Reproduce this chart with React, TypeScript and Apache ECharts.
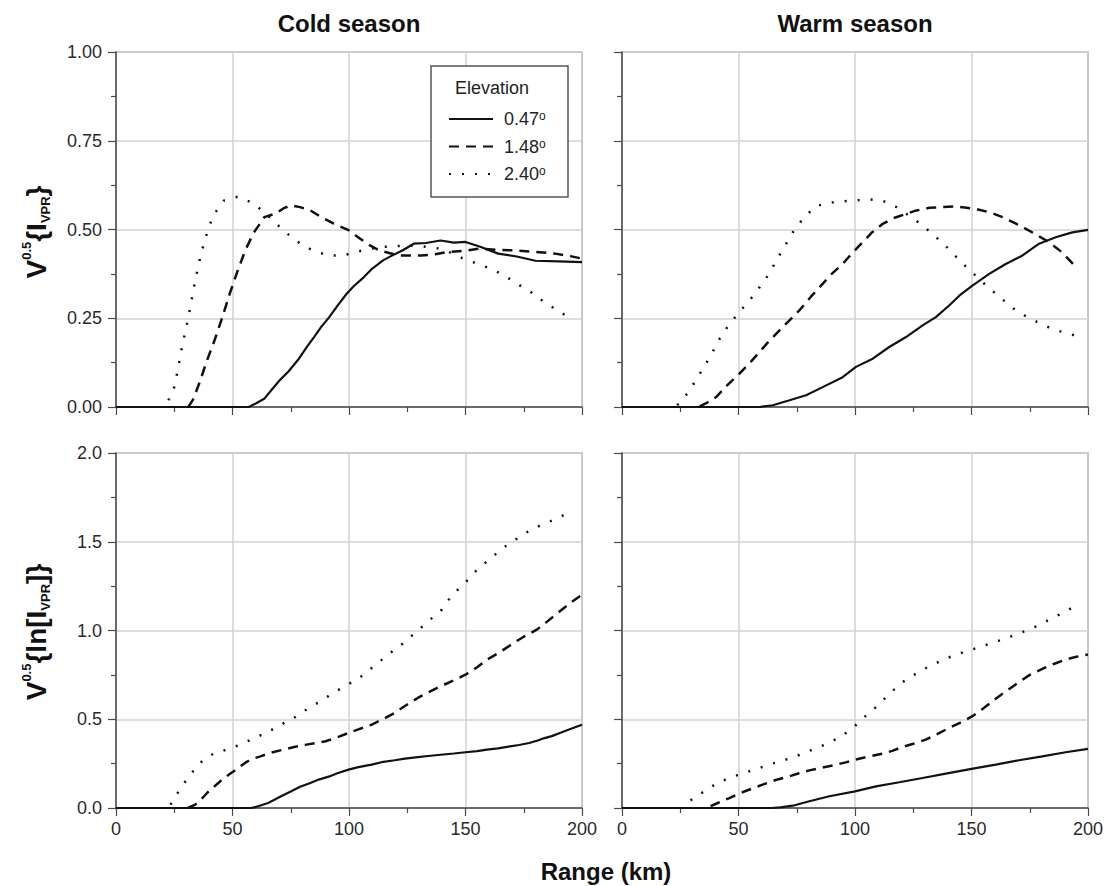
import React, { useEffect, useRef } from 'react';
import * as echarts from 'echarts';

const FONT = '"Liberation Sans", Arial, Helvetica, sans-serif';

// Elevation angles (degrees) of the three radar scans
const elevations = ['0.47', '1.48', '2.40'];

// Range axis (km)
const rangeMin = 0;
const rangeMax = 200;
const rangeStep = 50;

// Upper row: V^0.5{I_VPR}
const ivprMax = 1;
const ivprStep = 0.25;
// Lower row: V^0.5{ln[I_VPR]}
const lnIvprMax = 2;
const lnIvprStep = 0.5;

// ---- Cold season, V^0.5{I_VPR} ----
const coldIvpr047 = [
  [0, 0], [57, 0], [60, 0.01], [63.6, 0.023], [67, 0.05], [70.2, 0.075], [74, 0.1], [78.5, 0.136],
  [82, 0.17], [85, 0.197], [88, 0.225], [91.6, 0.254], [95, 0.285], [99, 0.319], [102, 0.34],
  [106.4, 0.366], [110, 0.39], [114.6, 0.413], [118, 0.425], [122.9, 0.441], [127.8, 0.46],
  [133, 0.462], [139.3, 0.469], [145, 0.463], [150, 0.465], [156, 0.452], [164, 0.432],
  [172, 0.424], [180, 0.412], [190, 0.41], [200, 0.408],
];
const coldIvpr148 = [
  [31, 0], [33, 0.02], [35.7, 0.066], [39, 0.13], [42.3, 0.188], [45.5, 0.25], [48.8, 0.319],
  [52, 0.38], [55.4, 0.44], [59, 0.49], [63.7, 0.535], [68.6, 0.545], [72, 0.56], [75.2, 0.568],
  [79, 0.563], [83.4, 0.554], [88, 0.535], [93.3, 0.517], [99.8, 0.498], [104.8, 0.474],
  [109, 0.455], [113, 0.441], [121.2, 0.427], [131, 0.427], [137, 0.43], [142.6, 0.437],
  [150, 0.44], [155.8, 0.446], [163, 0.443], [172, 0.441], [180, 0.437], [188.6, 0.432],
  [195, 0.425], [200, 0.418],
];
const coldIvpr240 = [
  [22.5, 0.019], [25, 0.056], [26.7, 0.11], [28.3, 0.169], [30.8, 0.244], [32.4, 0.3], [34, 0.357],
  [36.5, 0.432], [39.8, 0.507], [42.3, 0.545], [46.4, 0.582], [52.1, 0.592], [57.9, 0.577],
  [63.7, 0.549], [69, 0.515], [74.3, 0.484], [80.1, 0.455], [85.9, 0.437], [91.6, 0.427],
  [97.4, 0.427], [103.1, 0.437], [109.7, 0.446], [114.6, 0.451], [120.4, 0.453], [126, 0.455],
  [132, 0.452], [138, 0.447], [143.5, 0.435], [149, 0.418], [155, 0.404], [160.7, 0.39],
  [166.5, 0.371], [172.2, 0.347], [178, 0.324], [183.7, 0.296], [189.5, 0.272], [195.2, 0.249],
];

// ---- Warm season, V^0.5{I_VPR} ----
const warmIvpr047 = [
  [0, 0], [59, 0], [64.7, 0.005], [71.9, 0.019], [79, 0.033], [86.1, 0.056], [94.7, 0.084],
  [100.4, 0.113], [107.6, 0.136], [114.7, 0.169], [121.9, 0.197], [129, 0.23], [134.7, 0.253],
  [140.4, 0.286], [145, 0.315], [150.4, 0.342], [157.6, 0.375], [164.7, 0.403], [171.9, 0.427],
  [179, 0.46], [186.1, 0.478], [193.3, 0.492], [200, 0.499],
];
const warmIvpr148 = [
  [33.3, 0.002], [36, 0.01], [40.4, 0.028], [45, 0.06], [50.4, 0.094], [55, 0.125], [59, 0.155],
  [63, 0.185], [67.6, 0.216], [72, 0.245], [76.1, 0.272], [81, 0.31], [86.1, 0.347], [90, 0.375],
  [94.7, 0.403], [99, 0.435], [103.3, 0.464], [107, 0.49], [111.9, 0.516], [117, 0.533],
  [121.9, 0.544], [126, 0.553], [131.9, 0.561], [137, 0.563], [143.3, 0.565], [147, 0.562],
  [151.9, 0.558], [158, 0.548], [163.3, 0.535], [168, 0.52], [173.3, 0.502], [178, 0.485],
  [183.3, 0.464], [189, 0.435], [194.7, 0.395],
];
const warmIvpr240 = [
  [23.7, 0.005], [28.6, 0.042], [32.1, 0.08], [35.6, 0.117], [38.9, 0.155], [41.9, 0.192],
  [45.7, 0.23], [50.3, 0.267], [55.3, 0.305], [59.6, 0.342], [63.6, 0.38], [66.6, 0.417],
  [70, 0.455], [73.4, 0.493], [77.6, 0.53], [82.9, 0.565], [88.6, 0.575], [94.3, 0.579],
  [100, 0.582], [105.9, 0.585], [111.6, 0.582], [117.3, 0.565], [123, 0.54], [128.7, 0.513],
  [134.4, 0.481], [140.1, 0.446], [145.6, 0.408], [151.3, 0.373], [156.7, 0.34], [162.4, 0.308],
  [168.1, 0.277], [173.9, 0.253], [179.6, 0.235], [185.3, 0.218], [191, 0.208], [196.7, 0.197],
];

// ---- Cold season, V^0.5{ln[I_VPR]} ----
const coldLnIvpr047 = [
  [0, 0], [58, 0], [61, 0.01], [65.3, 0.028], [70, 0.06], [75.2, 0.094], [79, 0.12], [83.4, 0.141],
  [87, 0.16], [91.6, 0.178], [95, 0.196], [99.8, 0.216], [104, 0.23], [109.7, 0.244],
  [114, 0.258], [119.6, 0.269], [124, 0.278], [129.5, 0.287], [134, 0.293], [139.3, 0.3],
  [145, 0.307], [150, 0.314], [155, 0.32], [159.2, 0.329], [164, 0.336], [169.1, 0.347],
  [173, 0.355], [177.3, 0.366], [181, 0.38], [183.9, 0.394], [187, 0.405], [190.5, 0.423],
  [195, 0.445], [200, 0.469],
];
const coldLnIvpr148 = [
  [30.8, 0], [34, 0.019], [37, 0.055], [39.8, 0.094], [43.9, 0.141], [47, 0.175], [50.5, 0.207],
  [55.4, 0.254], [58, 0.275], [62, 0.291], [66, 0.31], [71.9, 0.329], [76, 0.342], [81.7, 0.357],
  [86, 0.366], [90, 0.376], [95, 0.398], [99.8, 0.423], [104, 0.443], [109.7, 0.469],
  [114, 0.497], [119.6, 0.535], [124, 0.575], [129.5, 0.62], [134, 0.652], [139.3, 0.685],
  [145, 0.72], [150, 0.751], [155, 0.793], [159.2, 0.836], [165, 0.88], [170.7, 0.93],
  [175, 0.965], [180.6, 1.005], [185, 1.05], [190.5, 1.108], [195, 1.155], [200, 1.202],
];
const coldLnIvpr240 = [
  [23.4, 0.019], [27.3, 0.103], [31.3, 0.178], [36, 0.254], [41.8, 0.306], [47.5, 0.329],
  [53.3, 0.357], [59, 0.391], [64.8, 0.426], [70.7, 0.469], [76.3, 0.507], [82.1, 0.558],
  [87.8, 0.601], [93.6, 0.652], [99.5, 0.695], [105.3, 0.742], [111, 0.802], [116.8, 0.864],
  [122.5, 0.92], [128.3, 0.986], [134, 1.052], [139.8, 1.117], [144, 1.196], [150, 1.271],
  [154.6, 1.337], [160.4, 1.403], [166.1, 1.465], [171.9, 1.516], [177.6, 1.564],
  [183.4, 1.6], [189, 1.629], [194.9, 1.668],
];

// ---- Warm season, V^0.5{ln[I_VPR]} ----
const warmLnIvpr047 = [
  [0, 0], [64, 0], [68, 0.004], [73.3, 0.013], [80.4, 0.038], [89, 0.066], [100, 0.094],
  [109, 0.122], [119, 0.145], [129, 0.169], [139, 0.194], [150, 0.22], [160.4, 0.244],
  [170.4, 0.269], [180.4, 0.291], [190.4, 0.314], [200, 0.333],
];
const warmLnIvpr148 = [
  [38, 0.01], [40.4, 0.024], [46.1, 0.056], [51.9, 0.09], [56, 0.11], [60.4, 0.132], [66, 0.158],
  [71.9, 0.179], [76, 0.196], [80.4, 0.212], [86, 0.228], [91.9, 0.244], [96, 0.257],
  [100.4, 0.273], [106, 0.29], [111.9, 0.306], [116, 0.322], [120.4, 0.344], [125, 0.362],
  [130.4, 0.385], [135, 0.415], [140.4, 0.451], [145, 0.48], [150.4, 0.517], [155, 0.56],
  [160.4, 0.615], [165, 0.66], [170.4, 0.709], [175, 0.75], [180.4, 0.784], [185, 0.81],
  [190.4, 0.836], [195, 0.852], [200, 0.865],
];
const warmLnIvpr240 = [
  [29.4, 0.043], [35.3, 0.094], [41, 0.141], [46.7, 0.173], [52.4, 0.197], [58.1, 0.222],
  [63.9, 0.248], [69.6, 0.269], [75.3, 0.295], [81, 0.325], [86.7, 0.355], [92.4, 0.391],
  [98.4, 0.442], [103.9, 0.511], [109.4, 0.573], [115.1, 0.648], [120.4, 0.709], [126.1, 0.756],
  [131.9, 0.799], [137.6, 0.833], [143.3, 0.865], [149, 0.887], [154.6, 0.912], [160.4, 0.936],
  [166.4, 0.964], [172.1, 0.992], [177.9, 1.024], [183.6, 1.062], [189.3, 1.1], [195, 1.141],
];

// Panels in reading order: cold/warm on the upper row, cold/warm on the lower row
const panelSeries = [
  [coldIvpr047, coldIvpr148, coldIvpr240],
  [warmIvpr047, warmIvpr148, warmIvpr240],
  [coldLnIvpr047, coldLnIvpr148, coldLnIvpr240],
  [warmLnIvpr047, warmLnIvpr148, warmLnIvpr240],
];

const PLOT_W = 466;
const PLOT_H = 355;
const panelBoxes = [
  { left: 116, top: 52 },
  { left: 622, top: 52 },
  { left: 116, top: 453 },
  { left: 622, top: 453 },
];

const INK = '#111';
const AXIS = '#4a4a4a';
const GRIDLINE = '#d2d2d2';

const lineStyleByElevation: Record<string, any> = {
  '0.47': { type: 'solid', width: 2.2 },
  '1.48': { type: [10, 7], width: 2.5 },
  '2.40': { type: [2, 11], width: 2.5 },
};

function makeXAxis(i: number) {
  const showLabels = i >= 2;
  return {
    type: 'value',
    gridIndex: i,
    min: rangeMin,
    max: rangeMax,
    interval: rangeStep,
    axisLine: { show: true, onZero: false, lineStyle: { color: AXIS, width: 1.5 } },
    axisTick: { show: true, length: 8, lineStyle: { color: AXIS, width: 1.2 } },
    minorTick: { show: true, splitNumber: 2, length: 5, lineStyle: { color: AXIS, width: 1.2 } },
    splitLine: { show: true, lineStyle: { color: GRIDLINE, width: 1.5 } },
    axisLabel: {
      show: showLabels,
      fontSize: 18,
      fontFamily: FONT,
      color: '#2a2a2a',
      margin: 12,
    },
  };
}

function makeYAxis(i: number) {
  const upper = i < 2;
  const showLabels = i % 2 === 0;
  return {
    type: 'value',
    gridIndex: i,
    min: 0,
    max: upper ? ivprMax : lnIvprMax,
    interval: upper ? ivprStep : lnIvprStep,
    axisLine: { show: true, onZero: false, lineStyle: { color: AXIS, width: 1.5 } },
    axisTick: { show: true, length: 8, lineStyle: { color: AXIS, width: 1.2 } },
    minorTick: { show: true, splitNumber: 2, length: 5, lineStyle: { color: AXIS, width: 1.2 } },
    splitLine: { show: true, lineStyle: { color: GRIDLINE, width: 1.5 } },
    axisLabel: {
      show: showLabels,
      fontSize: 18,
      fontFamily: FONT,
      color: '#2a2a2a',
      margin: 14,
      formatter: (v: number) => v.toFixed(upper ? 2 : 1),
    },
  };
}

function makeSeries() {
  const out: any[] = [];
  panelSeries.forEach((group, i) => {
    group.forEach((data, k) => {
      const name = elevations[k];
      out.push({
        type: 'line',
        name,
        xAxisIndex: i,
        yAxisIndex: i,
        data,
        showSymbol: false,
        symbol: 'circle',
        silent: true,
        z: 3,
        itemStyle: { color: INK },
        lineStyle: { color: INK, ...lineStyleByElevation[name] },
      });
    });
  });
  return out;
}

const axisTitleRich = {
  sup: { fontSize: 13, fontWeight: 'bold', fontFamily: FONT, fill: INK, verticalAlign: 'top', lineHeight: 13 },
  sub: { fontSize: 13, fontWeight: 'bold', fontFamily: FONT, fill: INK, verticalAlign: 'bottom', lineHeight: 13 },
};

export default function App() {
  const ref = useRef<HTMLDivElement>(null);

  useEffect(() => {
    if (!ref.current) return;
    const chart = echarts.init(ref.current, undefined, { renderer: 'svg' });

    chart.setOption({
      animation: false,
      backgroundColor: '#ffffff',
      grid: panelBoxes.map((b) => ({
        left: b.left,
        top: b.top,
        width: PLOT_W,
        height: PLOT_H,
        show: true,
        borderColor: '#7a7a7a',
        borderWidth: 1.2,
        backgroundColor: 'transparent',
      })),
      xAxis: panelBoxes.map((_, i) => makeXAxis(i)),
      yAxis: panelBoxes.map((_, i) => makeYAxis(i)),
      legend: {
        data: elevations,
        orient: 'vertical',
        left: 448,
        top: 110,
        padding: 0,
        itemWidth: 44,
        itemHeight: 14,
        itemGap: 9.5,
        selectedMode: false,
        itemStyle: { opacity: 0 },
        textStyle: {
          fontSize: 18,
          fontFamily: FONT,
          color: '#222',
          padding: [0, 0, 0, 6],
          rich: {
            deg: { fontSize: 12, fontFamily: FONT, color: '#222', verticalAlign: 'top', lineHeight: 12 },
          },
        },
        formatter: (name: string) => `${name}{deg|o}`,
        z: 6,
      },
      graphic: [
        {
          type: 'rect',
          z: 5,
          shape: { x: 431, y: 66, width: 137, height: 131 },
          style: { fill: '#ffffff', stroke: '#555', lineWidth: 1.5 },
        },
        {
          type: 'text',
          z: 6,
          x: 455,
          y: 88,
          style: {
            text: 'Elevation',
            fontSize: 18,
            fontFamily: FONT,
            fill: '#222',
            align: 'left',
            verticalAlign: 'middle',
          },
        },
        {
          type: 'text',
          x: 349,
          y: 23,
          style: {
            text: 'Cold season',
            fontSize: 24,
            fontWeight: 'bold',
            fontFamily: FONT,
            fill: INK,
            align: 'center',
            verticalAlign: 'middle',
          },
        },
        {
          type: 'text',
          x: 855,
          y: 23,
          style: {
            text: 'Warm season',
            fontSize: 24,
            fontWeight: 'bold',
            fontFamily: FONT,
            fill: INK,
            align: 'center',
            verticalAlign: 'middle',
          },
        },
        {
          type: 'text',
          x: 606,
          y: 871,
          style: {
            text: 'Range (km)',
            fontSize: 24,
            fontWeight: 'bold',
            fontFamily: FONT,
            fill: INK,
            align: 'center',
            verticalAlign: 'middle',
          },
        },
        {
          type: 'text',
          x: 36,
          y: 232,
          rotation: Math.PI / 2,
          style: {
            text: 'V{sup|0.5}{I{sub|VPR}}',
            fontSize: 28,
            fontWeight: 'bold',
            fontFamily: FONT,
            fill: INK,
            align: 'center',
            verticalAlign: 'middle',
            lineHeight: 32,
            rich: axisTitleRich,
          },
        },
        {
          type: 'text',
          x: 36,
          y: 632,
          rotation: Math.PI / 2,
          style: {
            text: 'V{sup|0.5}{ln[I{sub|VPR}]}',
            fontSize: 28,
            fontWeight: 'bold',
            fontFamily: FONT,
            fill: INK,
            align: 'center',
            verticalAlign: 'middle',
            lineHeight: 32,
            rich: axisTitleRich,
          },
        },
      ],
      series: makeSeries(),
    });

    return () => {
      chart.dispose();
    };
  }, []);

  return (
    <div
      ref={ref}
      style={{ position: 'absolute', left: 0, top: 0, width: 1107, height: 886, background: '#fff' }}
    />
  );
}
